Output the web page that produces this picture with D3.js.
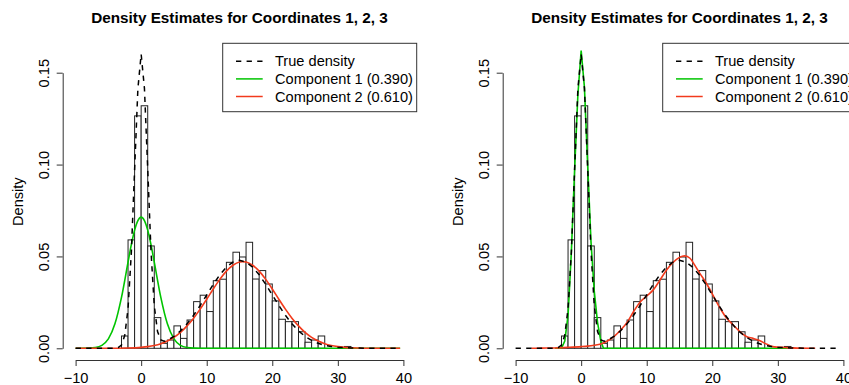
<!DOCTYPE html>
<html>
<head>
<meta charset="utf-8">
<script src="https://cdn.jsdelivr.net/npm/d3@7"></script>
<style>
  body { margin: 0; background: #fff; }
  svg { display: block; font-family: "Liberation Sans", Arial, Helvetica, sans-serif; }
</style>
</head>
<body>
<div id="chart"></div>
<script>
'use strict'

// histogram, unit wide bins: left edge of each bin and its density
const binStarts = [-3, -2, -1, 0, 1, 2, 3, 4, 5, 6, 7, 8, 9, 10, 11, 12, 13, 14, 15, 16,
  17, 18, 19, 20, 21, 22, 23, 24, 25, 26, 27, 28, 29, 30, 31]
const binDensity = [0.0067, 0.0590, 0.1265, 0.1320, 0.0557, 0.0167, 0.0027, 0.0045, 0.0122, 0.0054,
  0.0154, 0.0254, 0.0289, 0.0200, 0.0368, 0.0376, 0.0468, 0.0523, 0.0497, 0.0577,
  0.0377, 0.0423, 0.0350, 0.0258, 0.0158, 0.0145, 0.0145, 0.0090, 0.0033, 0.0045,
  0.0067, 0, 0, 0, 0.0010]

// true density (dashed), same in both panels
const trueX = [-10, -8, -6, -4, -3.5, -3, -2.5, -2, -1.5, -1, -0.5, 0, 0.5, 1, 1.5, 2, 2.5, 3, 3.5, 4,
  5, 6, 7, 8, 9, 10, 11, 12, 13, 14, 15, 16, 17, 18, 19, 20, 21, 22, 23, 24,
  25, 26, 27, 28, 29, 30, 32, 34, 36, 38, 39.5]
const trueY = [0, 0, 0, 0.00004, 0.0004, 0.0018, 0.0071, 0.0217, 0.052, 0.0971, 0.1412, 0.1601, 0.1415, 0.0976, 0.0529, 0.0232, 0.0091, 0.0045, 0.0038, 0.0043,
  0.0065, 0.0095, 0.0133, 0.0180, 0.0233, 0.0290, 0.0348, 0.0400, 0.0442, 0.0469, 0.0479, 0.0469, 0.0442, 0.0400, 0.0348, 0.0290, 0.0233, 0.0180, 0.0133, 0.0095,
  0.0065, 0.0043, 0.0027, 0.0016, 0.0010, 0.0005, 0.0002, 0.00004, 0, 0, 0]

// left panel estimates
const leftComp1X = [-10, -8, -7, -6, -5, -4, -3, -2, -1.5, -1, -0.5, 0, 0.5, 1, 1.5, 2, 3, 4, 5, 6, 7, 8, 10, 39.5]
const leftComp1Y = [0, 0.0001, 0.0004, 0.0016, 0.0051, 0.0133, 0.0277, 0.0469, 0.0564, 0.0643, 0.0695, 0.0714,
  0.0695, 0.0643, 0.0564, 0.0469, 0.0277, 0.0133, 0.0051, 0.0016, 0.0004, 0.0001, 0, 0]
const leftComp2X = [-10, -6, -4, -2, 0, 1, 2, 3, 4, 5, 6, 7, 8, 9, 10, 11, 12, 13, 14, 15, 15.5, 16, 17, 18, 19,
  20, 21, 22, 23, 24, 25, 26, 27, 28, 29, 30, 31, 32, 33, 35, 39.5]
const leftComp2Y = [0, 0, 0.00004, 0.00015, 0.00052, 0.00091, 0.00154, 0.00251, 0.00395, 0.00596, 0.00867, 0.0122, 0.0164, 0.0213, 0.0267, 0.0323, 0.0375, 0.0420, 0.0452, 0.0470, 0.0472, 0.0470, 0.0452, 0.0420, 0.0375,
  0.0323, 0.0267, 0.0213, 0.0164, 0.0122, 0.00867, 0.00596, 0.00395, 0.00251, 0.00154, 0.00091, 0.00052, 0.00028, 0.00015, 0.00004, 0]

// right panel estimates
const rightComp1X = [-4, -3, -2.5, -2, -1.5, -1, -0.5, 0, 0.5, 1, 1.5, 2, 2.5, 3, 3.4, 31.5]
const rightComp1Y = [0, 0, 0.004, 0.018, 0.052, 0.097, 0.138, 0.162, 0.142, 0.099, 0.058, 0.031, 0.014, 0.004, 0, 0]
const rightComp2X = [-7.6, -6, -4, -2, 0, 1, 2, 3, 4, 5, 6, 7, 8, 9, 10, 11, 12, 13, 14, 15, 15.8, 16.6, 17.3, 18.1, 19.1,
  20.1, 21.2, 22.2, 23.2, 24.2, 25.2, 26.2, 27.2, 28.2, 29.2, 31.2, 33, 35.7]
const rightComp2Y = [0, 0.0001, 0.0002, 0.0005, 0.0009, 0.0012, 0.0017, 0.0024, 0.0040, 0.0064, 0.0098, 0.0140, 0.0200, 0.0252, 0.0285, 0.0318, 0.0370, 0.0425, 0.0467, 0.0495, 0.0503, 0.0490, 0.0454, 0.0408, 0.0354,
  0.0290, 0.0218, 0.0163, 0.0127, 0.0091, 0.0064, 0.0054, 0.0042, 0.0024, 0.0009, 0.0004, 0.0001, 0]

const xTicks = [-10, 0, 10, 20, 30, 40]
const yTicks = [0, 0.05, 0.10, 0.15]
const legendLabels = ['True density', 'Component 1 (0.390)', 'Component 2 (0.610)']
const titleText = 'Density Estimates for Coordinates 1, 2, 3'

const green = '#00c400'
const red = '#f23a1c'
const axisColor = '#333'

const svg = d3.select('#chart')
  .append('svg')
    .attr('width', 849)
    .attr('height', 385)

const drawPanel = (dx, comp1X, comp1Y, comp2X, comp2Y, smoothComp1) => {
  const g = svg.append('g')
    .attr('transform', `translate(${dx}, 0)`)

  const x = d3.scaleLinear().domain([-10, 40]).range([75.6, 403.4])
  const y = d3.scaleLinear().domain([0, 0.15]).range([348.3, 72.7])

  // title
  g.append('text')
    .attr('x', 239.5)
    .attr('y', 22.7)
    .attr('text-anchor', 'middle')
    .style('font-weight', 'bold')
    .style('font-size', '15.3px')
    .text(titleText)

  // histogram bars
  g.append('g')
    .selectAll('rect')
    .data(d3.zip(binStarts, binDensity))
    .join('rect')
      .attr('x', d => x(d[0]))
      .attr('width', d => x(d[0] + 1) - x(d[0]))
      .attr('y', d => y(d[1]))
      .attr('height', d => y(0) - y(d[1]))
      .attr('fill', '#fff')
      .attr('stroke', '#222')
      .attr('stroke-width', 1)

  const line = curve => d3.line()
    .x(d => x(d[0]))
    .y(d => y(d[1]))
    .curve(curve)

  g.append('path')
    .datum(d3.zip(comp1X, comp1Y))
    .attr('fill', 'none')
    .attr('stroke', green)
    .attr('stroke-width', 1.6)
    .attr('d', line(smoothComp1 ? d3.curveMonotoneX : d3.curveLinear))

  g.append('path')
    .datum(d3.zip(comp2X, comp2Y))
    .attr('fill', 'none')
    .attr('stroke', red)
    .attr('stroke-width', 1.6)
    .attr('d', line(d3.curveMonotoneX))

  g.append('path')
    .datum(d3.zip(trueX, trueY))
    .attr('fill', 'none')
    .attr('stroke', '#000')
    .attr('stroke-width', 1.5)
    .attr('stroke-dasharray', '5.3,5.3')
    .attr('d', line(d3.curveLinear))

  // x axis
  const xAxis = g.append('g')
    .attr('transform', 'translate(0, 360)')
    .call(d3.axisBottom(x).tickValues(xTicks).tickSize(6).tickSizeOuter(0))
  xAxis.selectAll('text')
    .attr('y', 23.3)
    .attr('dy', 0)
    .attr('fill', '#000')
    .style('font-size', '14.6px')
    .style('font-family', '"Liberation Sans", Arial, Helvetica, sans-serif')

  // y axis with rotated labels
  const yAxis = g.append('g')
    .attr('transform', 'translate(62.7, 0)')
    .call(d3.axisLeft(y).tickValues(yTicks).tickFormat(d3.format('.2f')).tickSize(6).tickSizeOuter(0))
  yAxis.selectAll('text')
    .attr('transform', 'rotate(-90)')
    .attr('x', 0)
    .attr('y', -13.4)
    .attr('dy', 0)
    .attr('text-anchor', 'middle')
    .attr('fill', '#000')
    .style('font-size', '14.6px')
    .style('font-family', '"Liberation Sans", Arial, Helvetica, sans-serif')

  g.selectAll('.domain, .tick line')
    .attr('stroke', axisColor)

  g.append('text')
    .attr('transform', 'translate(22.5, 201.7) rotate(-90)')
    .attr('text-anchor', 'middle')
    .style('font-size', '14.6px')
    .text('Density')

  // legend
  const legend = g.append('g')
  legend.append('rect')
    .attr('x', 222.7)
    .attr('y', 43.3)
    .attr('width', 194)
    .attr('height', 68.4)
    .attr('fill', '#fff')
    .attr('stroke', axisColor)

  const styles = [
    { stroke: '#000', dash: '5.3,5.3' },
    { stroke: green, dash: null },
    { stroke: red, dash: null }
  ]
  legendLabels.forEach((label, i) => {
    const ly = 61.3 + i * 17.6
    legend.append('line')
      .attr('x1', 236)
      .attr('x2', 262.7)
      .attr('y1', ly)
      .attr('y2', ly)
      .attr('stroke', styles[i].stroke)
      .attr('stroke-width', 1.5)
      .attr('stroke-dasharray', styles[i].dash)
    legend.append('text')
      .attr('x', 275)
      .attr('y', ly)
      .attr('dy', '0.35em')
      .style('font-size', '14.6px')
      .text(label)
  })
}

drawPanel(0, leftComp1X, leftComp1Y, leftComp2X, leftComp2Y, true)
drawPanel(440, rightComp1X, rightComp1Y, rightComp2X, rightComp2Y, false)
</script>
</body>
</html>
